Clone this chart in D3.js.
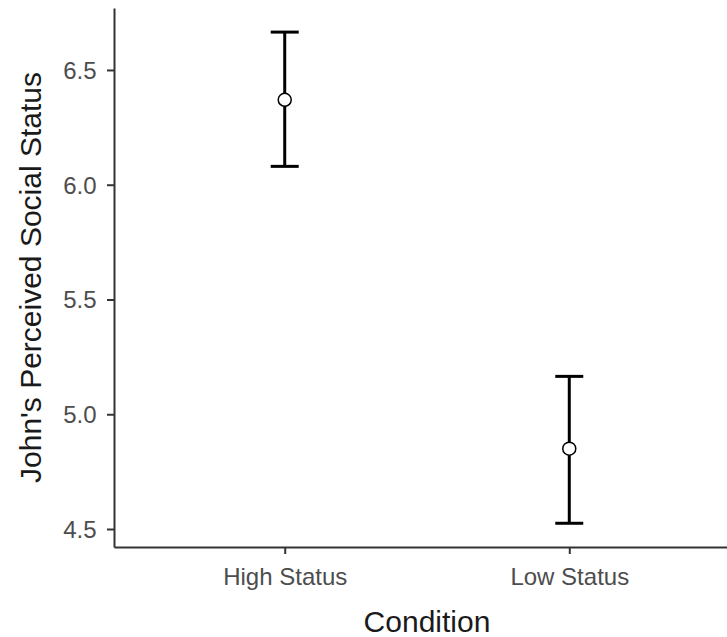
<!DOCTYPE html>
<html>
<head>
<meta charset="utf-8">
<script src="https://cdn.jsdelivr.net/npm/d3@7"></script>
<style>
  html, body { margin: 0; padding: 0; background: #fff; }
  svg { display: block; }
</style>
</head>
<body>
<script>
// ---- data ----
const categories = ["High Status", "Low Status"];
const means = [6.37, 4.85];
const lowerCI = [6.08, 4.525];
const upperCI = [6.665, 5.165];
const yTicks = [4.5, 5.0, 5.5, 6.0, 6.5];
const xTitle = "Condition";
const yTitle = "John's Perceived Social Status";

const W = 727, H = 637;
const panel = { left: 114, right: 740, top: 8, bottom: 547 };

const svg = d3.select("body").append("svg")
  .attr("width", W).attr("height", H)
  .style("font-family", "'Liberation Sans', Arial, sans-serif");

const x = d3.scalePoint().domain(categories)
  .range([panel.left, panel.right]).padding(0.6);
const y = d3.scaleLinear().domain([4.4216, 6.77])
  .range([panel.bottom, panel.top]);

const tickFs = 24, titleFs = 30;

// y axis
const gy = svg.append("g").attr("transform", `translate(${panel.left},0)`)
  .call(d3.axisLeft(y).tickValues(yTicks).tickFormat(d3.format(".1f"))
    .tickSize(7).tickSizeOuter(0).tickPadding(10.5));
gy.select(".domain").attr("stroke", "#333").attr("stroke-width", 2);
gy.selectAll(".tick line").attr("stroke", "#333").attr("stroke-width", 2);
gy.selectAll(".tick text").attr("fill", "#4d4d4d")
  .attr("font-size", tickFs).attr("font-family", null)
  .attr("dy", "0.35em");

// x axis
const gx = svg.append("g").attr("transform", `translate(0,${panel.bottom})`)
  .call(d3.axisBottom(x).tickSize(7).tickSizeOuter(0));
gx.select(".domain").attr("stroke", "#333").attr("stroke-width", 2);
gx.selectAll(".tick line").attr("stroke", "#333").attr("stroke-width", 2);
gx.selectAll(".tick text").attr("fill", "#4d4d4d")
  .attr("font-size", tickFs).attr("font-family", null)
  .attr("y", 37.5).attr("dy", null);

// error bars
const capHalf = 14;
const data = categories.map((c, i) => ({ c, m: means[i], lo: lowerCI[i], hi: upperCI[i] }));
const eb = svg.append("g").attr("stroke", "#000").attr("stroke-width", 3).attr("fill", "none");
eb.selectAll("line.v").data(data).join("line").attr("class", "v")
  .attr("x1", d => x(d.c)).attr("x2", d => x(d.c))
  .attr("y1", d => y(d.lo)).attr("y2", d => y(d.hi));
eb.selectAll("line.top").data(data).join("line").attr("class", "top")
  .attr("x1", d => x(d.c) - capHalf).attr("x2", d => x(d.c) + capHalf)
  .attr("y1", d => y(d.hi)).attr("y2", d => y(d.hi));
eb.selectAll("line.bot").data(data).join("line").attr("class", "bot")
  .attr("x1", d => x(d.c) - capHalf).attr("x2", d => x(d.c) + capHalf)
  .attr("y1", d => y(d.lo)).attr("y2", d => y(d.lo));

// points
svg.append("g").selectAll("circle").data(data).join("circle")
  .attr("cx", d => x(d.c)).attr("cy", d => y(d.m)).attr("r", 6.5)
  .attr("fill", "#fff").attr("stroke", "#000").attr("stroke-width", 1.5);

// titles
svg.append("text")
  .attr("x", (panel.left + panel.right) / 2).attr("y", 632)
  .attr("text-anchor", "middle").attr("font-size", titleFs).attr("fill", "#1a1a1a")
  .text(xTitle);
svg.append("text")
  .attr("transform", `translate(41,${(panel.top + panel.bottom) / 2}) rotate(-90)`)
  .attr("text-anchor", "middle").attr("font-size", titleFs).attr("fill", "#1a1a1a")
  .text(yTitle);
</script>
</body>
</html>
